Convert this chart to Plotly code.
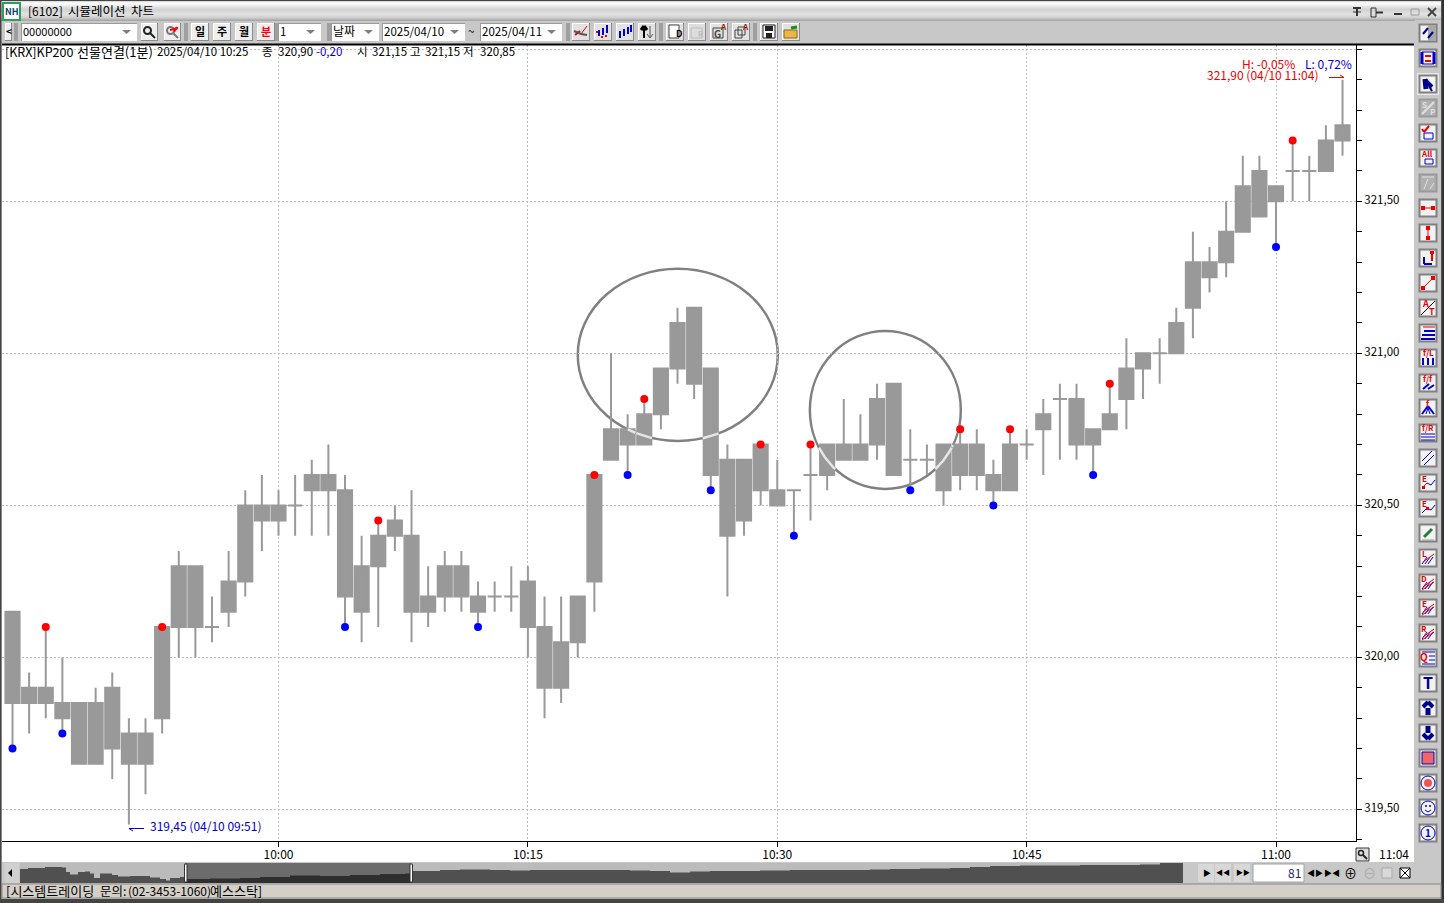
import math

import plotly.graph_objects as go

W = 1444
H = 903
FONT = "Noto Sans CJK KR"

# 1 minute bars, 09:44 -> 11:04
body_top = [
    320.15, 319.90, 319.90, 319.85, 319.85, 319.85, 319.90, 319.75, 319.75, 320.10,
    320.30, 320.30, 320.10, 320.25, 320.50, 320.50, 320.50, 320.50, 320.60, 320.60,
    320.55, 320.30, 320.40, 320.45, 320.40, 320.20, 320.30, 320.30, 320.20, 320.20,
    320.20, 320.25, 320.10, 320.05, 320.20, 320.60, 320.75, 320.75, 320.80, 320.95,
    321.10, 321.15, 320.95, 320.65, 320.65, 320.70, 320.55, 320.55, 320.60, 320.70,
    320.70, 320.70, 320.85, 320.90, 320.65, 320.65, 320.70, 320.70, 320.70, 320.60,
    320.70, 320.70, 320.80, 320.85, 320.85, 320.75, 320.80, 320.95, 321.00, 321.00,
    321.10, 321.30, 321.30, 321.40, 321.55, 321.60, 321.55, 321.60, 321.60, 321.70, 321.75,
]
body_bot = [
    319.85, 319.85, 319.85, 319.80, 319.65, 319.65, 319.70, 319.65, 319.65, 319.80,
    320.10, 320.10, 320.10, 320.15, 320.25, 320.45, 320.45, 320.50, 320.55, 320.55,
    320.20, 320.15, 320.30, 320.40, 320.15, 320.15, 320.20, 320.20, 320.15, 320.20,
    320.20, 320.10, 319.90, 319.90, 320.05, 320.25, 320.65, 320.70, 320.70, 320.80,
    320.95, 320.90, 320.60, 320.40, 320.45, 320.55, 320.50, 320.55, 320.60, 320.60,
    320.65, 320.65, 320.70, 320.60, 320.65, 320.65, 320.55, 320.60, 320.60, 320.55,
    320.55, 320.70, 320.75, 320.85, 320.70, 320.70, 320.75, 320.85, 320.95, 321.00,
    321.00, 321.15, 321.25, 321.30, 321.40, 321.45, 321.50, 321.60, 321.60, 321.60, 321.70,
]
high = [
    320.15, 319.95, 320.10, 320.00, 319.85, 319.90, 319.95, 319.80, 319.80, 320.10,
    320.35, 320.30, 320.20, 320.35, 320.55, 320.60, 320.55, 320.60, 320.65, 320.70,
    320.60, 320.40, 320.45, 320.50, 320.55, 320.30, 320.35, 320.35, 320.25, 320.25,
    320.30, 320.30, 320.20, 320.20, 320.20, 320.60, 321.00, 320.80, 320.85, 320.95,
    321.15, 321.15, 320.95, 320.70, 320.65, 320.70, 320.65, 320.55, 320.70, 320.70,
    320.85, 320.80, 320.90, 320.90, 320.75, 320.70, 320.70, 320.75, 320.75, 320.65,
    320.75, 320.75, 320.85, 320.90, 320.90, 320.75, 320.90, 321.05, 321.00, 321.05,
    321.15, 321.40, 321.35, 321.50, 321.65, 321.65, 321.55, 321.70, 321.65, 321.75, 321.90,
]
low = [
    319.70, 319.75, 319.80, 319.75, 319.65, 319.65, 319.60, 319.45, 319.55, 319.75,
    320.00, 320.00, 320.05, 320.10, 320.20, 320.35, 320.40, 320.40, 320.40, 320.40,
    320.10, 320.05, 320.10, 320.35, 320.05, 320.10, 320.15, 320.15, 320.10, 320.15,
    320.15, 320.00, 319.80, 319.85, 320.00, 320.15, 320.65, 320.60, 320.70, 320.75,
    320.90, 320.85, 320.55, 320.20, 320.40, 320.50, 320.50, 320.40, 320.45, 320.55,
    320.65, 320.65, 320.65, 320.60, 320.55, 320.60, 320.50, 320.55, 320.55, 320.50,
    320.55, 320.65, 320.60, 320.65, 320.65, 320.60, 320.75, 320.75, 320.85, 320.90,
    321.00, 321.05, 321.20, 321.25, 321.40, 321.45, 321.35, 321.50, 321.50, 321.60, 321.65,
]
red_bars = [2, 9, 22, 35, 38, 45, 48, 57, 60, 66, 77]
blue_bars = [0, 3, 20, 28, 37, 42, 47, 54, 59, 65, 76]

time_ticks = [16, 31, 46, 61, 76]
time_labels = ["10:00", "10:15", "10:30", "10:45", "11:00"]
price_ticks = [319.5, 320.0, 320.5, 321.0, 321.5, 322.0]
price_labels = ["319,50", "320,00", "320,50", "321,00", "321,50", ""]
minor_ticks = [319.4, 319.6, 319.7, 319.8, 319.9, 320.1, 320.2, 320.3, 320.4, 320.6, 320.7,
               320.8, 320.9, 321.1, 321.2, 321.3, 321.4, 321.6, 321.7, 321.8, 321.9]

# the two hand drawn circles: first/last bar, lower/upper price
circles = [(34.0, 46.03, 320.712, 321.278), (47.96, 57.04, 320.554, 321.074)]

# overview strip under the chart
nav_pos = [0, 8, 25, 42, 46, 50, 58, 65, 70, 74, 80, 92, 98, 110, 130, 140, 146, 150, 160, 166,
           190, 220, 240, 270, 300, 330, 360, 385, 391, 400, 420, 440, 470, 490, 510, 540, 570,
           590, 610, 630, 650, 670, 690, 710, 740, 770, 800, 830, 850, 870, 900, 930, 950, 970,
           1000, 1030, 1060, 1090, 1120, 1140, 1163]
nav_level = [14, 15, 16, 15.5, 11, 8.5, 11, 11.5, 9.5, 5, 9.5, 8, 6.5, 7, 5.5, 4, 2.5, 5, 6, 4,
             4.5, 5, 6, 7.5, 7, 8, 9, 9.5, 12, 12, 13, 13.5, 13, 12.5, 13, 13, 13,
             13, 12.5, 12, 10.5, 11.5, 12, 12, 12.5, 13, 13, 13, 13.5, 14, 14.5, 15, 16, 17,
             17.5, 17.5, 18, 18, 18.5, 20, 20]

shapes = []
notes = []


def px(x):
    return x / W


def py(y):
    return 1 - y / H


def rect(x0, y0, x1, y1, fill, line=None, width=1, layer="above", kind="rect"):
    shapes.append(dict(type=kind, xref="paper", yref="paper", layer=layer,
                       x0=px(x0), x1=px(x1), y0=py(y0), y1=py(y1), fillcolor=fill,
                       line=dict(color=line or "rgba(0,0,0,0)", width=width if line else 0)))


def seg(x0, y0, x1, y1, color="#000000", width=1, layer="above"):
    shapes.append(dict(type="line", xref="paper", yref="paper", layer=layer,
                       x0=px(x0), x1=px(x1), y0=py(y0), y1=py(y1),
                       line=dict(color=color, width=width)))


def text(x, y, s, color="#000000", size=11.5, anchor="left", bold=False):
    if bold:
        s = "<b>" + s + "</b>"
    notes.append(dict(xref="paper", yref="paper", x=px(x), y=py(y - 1), text=s, showarrow=False,
                      xanchor=anchor, yanchor="middle", align=anchor, borderpad=0, borderwidth=0,
                      font=dict(family=FONT, size=size, color=color)))


def button(x0, y0, x1, y1, fill="#eeeeee", edge="#8a8a8a"):
    rect(x0, y0, x1, y1, fill)
    seg(x0, y0 + .5, x1, y0 + .5, "#ffffff")
    seg(x0 + .5, y0, x0 + .5, y1, "#ffffff")
    seg(x0, y1 - .5, x1, y1 - .5, edge)
    seg(x1 - .5, y0, x1 - .5, y1, edge)


def combo(x0, x1, s, size=11.5):
    rect(x0, 23, x1, 41, "#ffffff")
    seg(x0, 23.5, x1, 23.5, "#9a9a9a")
    seg(x0 + .5, 23, x0 + .5, 41, "#9a9a9a")
    text(x0 + 2, 32, s, size=size)
    shapes.append(dict(type="path", xref="paper", yref="paper", fillcolor="#808080", line=dict(width=0),
                       path="M%f %f L%f %f L%f %f Z" % (px(x1 - 15), py(30), px(x1 - 6), py(30), px(x1 - 10.5), py(34))))


def glyph(x, y, prims):
    for p in prims:
        if p[0] == "l":
            seg(x + p[3], y + p[4], x + p[5], y + p[6], p[1], p[2])
        elif p[0] == "r":
            rect(x + p[3], y + p[4], x + p[5], y + p[6], p[1], p[2], 1)
        elif p[0] == "c":
            rect(x + p[3], y + p[4], x + p[5], y + p[6], p[1], p[2], 1, kind="circle")
        elif p[0] == "t":
            text(x + p[3], y + p[4], p[2], p[1], p[5], "center", True)


RED = "#ee0000"
BLU = "#0000cc"
NAVY = "#00008b"
NONE = "rgba(0,0,0,0)"
stripes = [("l", BLU, 1, 3, 15, 8, 8), ("l", BLU, 1, 6, 15, 11, 8), ("l", BLU, 1, 9, 15, 14, 8),
           ("l", RED, 1, 4, 13, 15, 5), ("l", RED, 1, 3, 16, 15, 8)]
side_icons = [
    (33, 0, [("r", "#a8a8a8", None, 9, 1, 17, 17), ("l", NAVY, 2, 4, 10, 9, 4), ("l", NAVY, 2, 9, 14, 14, 8)]),
    (58, 0, [("r", NONE, BLU, 3, 3, 15, 15), ("l", RED, 2, 6, 7, 12, 7), ("l", RED, 2, 6, 12, 12, 12), ("l", BLU, 3, 3, 3, 3, 15), ("l", BLU, 3, 15, 3, 15, 15)]),
    (84, 3, [("l", NAVY, 5, 6, 4, 7, 14), ("l", NAVY, 4, 6, 5, 13, 12), ("l", NAVY, 2, 10, 11, 13, 16)]),
    (108, 1, [("l", "#e0e0e0", 2, 3, 15, 15, 3), ("t", "#e0e0e0", "S", 5, 6, 8), ("t", "#e0e0e0", "P", 13, 13, 8)]),
    (133, 0, [("l", RED, 2, 3, 5, 5, 8), ("l", RED, 2, 5, 8, 10, 2), ("r", NONE, BLU, 5, 9, 14, 15)]),
    (158, 0, [("t", RED, "All", 8, 5, 8), ("r", NONE, BLU, 6, 10, 14, 15)]),
    (183, 1, [("l", "#e0e0e0", 1, 3, 3, 15, 3), ("l", "#e0e0e0", 1, 5, 15, 9, 5), ("l", "#e0e0e0", 1, 11, 15, 15, 9)]),
    (208, 0, [("l", RED, 1, 3, 9, 15, 9), ("r", RED, None, 2, 7, 6, 11), ("r", RED, None, 12, 7, 16, 11)]),
    (233, 0, [("l", RED, 1, 9, 3, 9, 15), ("r", RED, None, 7, 2, 11, 6), ("r", RED, None, 7, 12, 11, 16)]),
    (258, 0, [("l", BLU, 2, 5, 15, 13, 15), ("l", BLU, 2, 5, 8, 5, 15), ("l", RED, 2, 13, 3, 13, 12), ("r", RED, None, 11, 2, 15, 5)]),
    (283, 0, [("l", RED, 1, 4, 14, 14, 4), ("r", RED, None, 2, 12, 6, 16), ("r", RED, None, 12, 2, 16, 6)]),
    (308, 0, [("l", "#000000", 1, 2, 16, 16, 2), ("t", RED, "A", 6, 5, 9), ("t", RED, "T", 13, 13, 9)]),
    (333, 0, [("l", RED, 1, 4, 3, 16, 3), ("l", BLU, 2, 5, 7, 16, 7), ("l", BLU, 2, 3, 11, 16, 11), ("l", BLU, 2, 2, 15, 16, 15)]),
    (358, 0, [("t", RED, "f/L", 9, 5, 8), ("l", BLU, 2, 4, 9, 4, 16), ("l", BLU, 2, 9, 9, 9, 16), ("l", BLU, 2, 14, 9, 14, 16)]),
    (383, 0, [("t", RED, "f/f", 9, 5, 8), ("l", BLU, 2, 4, 15, 10, 10), ("l", BLU, 2, 9, 15, 15, 11)]),
    (408, 0, [("t", RED, "f", 9, 5, 8), ("l", BLU, 2, 3, 15, 9, 7), ("l", BLU, 2, 15, 15, 9, 7), ("l", BLU, 1, 7, 15, 9, 9), ("l", BLU, 1, 11, 15, 9, 9)]),
    (433, 0, [("t", RED, "f/R", 9, 5, 8), ("l", BLU, 1, 2, 10, 16, 10), ("l", BLU, 1, 2, 13, 16, 13), ("l", BLU, 1, 2, 16, 16, 16)]),
    (458, 0, [("l", BLU, 1, 3, 12, 13, 2), ("l", BLU, 1, 5, 16, 15, 6)]),
    (483, 0, [("t", RED, "E", 5, 5, 8), ("l", RED, 1, 3, 14, 8, 9), ("l", BLU, 1, 8, 9, 12, 11), ("l", BLU, 1, 12, 11, 16, 6), ("r", RED, None, 3, 12, 6, 15)]),
    (508, 0, [("t", RED, "E", 5, 5, 8), ("l", BLU, 1, 3, 14, 8, 9), ("l", BLU, 1, 8, 9, 12, 11), ("l", BLU, 1, 12, 11, 16, 6), ("r", RED, None, 7, 8, 10, 11)]),
    (533, 0, [("l", "#2e7d32", 3, 5, 13, 13, 5), ("l", "#9a9a9a", 1, 3, 16, 15, 16)]),
    (558, 0, [("t", RED, "L", 5, 5, 8)] + stripes[:3] + [("l", RED, 1, 4, 13, 15, 5)]),
    (583, 0, [("t", RED, "D", 5, 5, 8)] + stripes),
    (608, 0, [("t", RED, "E", 5, 5, 8)] + stripes),
    (633, 0, [("t", RED, "R", 5, 5, 8)] + stripes),
    (658, 0, [("t", RED, "Q", 5, 8, 10), ("l", BLU, 1, 3, 3, 16, 3), ("l", BLU, 1, 10, 7, 16, 7), ("l", BLU, 1, 10, 11, 16, 11), ("l", BLU, 1, 3, 15, 16, 15)]),
    (683, 0, [("t", NAVY, "T", 9, 9, 16)]),
    (708, 0, [("l", NAVY, 5, 9, 9, 9, 16), ("l", NAVY, 4, 4, 8, 9, 3), ("l", NAVY, 4, 14, 8, 9, 3)]),
    (733, 0, [("l", NAVY, 5, 9, 2, 9, 9), ("l", NAVY, 4, 4, 10, 9, 15), ("l", NAVY, 4, 14, 10, 9, 15)]),
    (758, 0, [("r", "#ee6666", BLU, 3, 3, 15, 15)]),
    (783, 0, [("c", NONE, BLU, 2, 2, 16, 16), ("c", "#ee5555", None, 5, 5, 13, 13)]),
    (808, 0, [("c", NONE, BLU, 2, 2, 16, 16), ("c", BLU, None, 6, 6, 8, 8), ("c", BLU, None, 10, 6, 12, 8), ("l", BLU, 1, 6, 11, 9, 13), ("l", BLU, 1, 9, 13, 12, 11)]),
    (833, 0, [("c", NONE, BLU, 2, 2, 16, 16), ("t", BLU, "1", 9, 9, 10)]),
]
top_icons = [
    (572, [("l", RED, 2, 3, 12, 8, 8), ("l", "#555555", 2, 2, 8, 9, 11), ("l", RED, 1, 9, 11, 15, 3), ("l", "#555555", 2, 9, 11, 15, 12)]),
    (594, [("l", BLU, 2, 5, 7, 5, 13), ("l", BLU, 2, 9, 5, 9, 12), ("l", BLU, 2, 13, 2, 13, 10), ("r", RED, None, 2, 8, 4, 10), ("r", RED, None, 7, 13, 9, 15), ("r", RED, None, 11, 12, 13, 14)]),
    (616, [("l", BLU, 2, 4, 8, 4, 15), ("l", BLU, 2, 8, 6, 8, 13), ("l", BLU, 2, 12, 4, 12, 11), ("l", BLU, 2, 15, 2, 15, 9)]),
    (638, [("l", "#000000", 2, 6, 6, 6, 15), ("l", "#000000", 3, 3, 7, 6, 3), ("l", "#000000", 3, 9, 7, 6, 3), ("l", "#555555", 1, 12, 3, 12, 14), ("l", "#555555", 1, 9, 11, 12, 15), ("l", "#555555", 1, 15, 11, 12, 15)]),
    (666, [("r", "#ffffff", "#444444", 3, 2, 13, 15), ("t", "#000000", "D", 13, 12, 9)]),
    (688, [("r", NONE, "#bcbcbc", 3, 5, 14, 15), ("t", "#bcbcbc", "R", 13, 12, 8)]),
    (710, [("r", NONE, "#444444", 3, 5, 13, 15), ("t", "#444444", "G", 7, 11, 10), ("t", "#8b2500", "A", 13, 4, 8)]),
    (732, [("r", NONE, "#444444", 3, 7, 10, 15), ("r", NONE, "#444444", 6, 4, 13, 12), ("t", "#8b2500", "A", 14, 4, 8)]),
    (760, [("r", "#ffffff", "#222222", 3, 2, 15, 15), ("r", "#222222", None, 5, 3, 13, 8), ("r", "#222222", None, 6, 10, 12, 15)]),
    (782, [("r", "#e8b64a", "#8b6914", 2, 7, 15, 15), ("l", "#1a8f1a", 3, 9, 5, 15, 4)]),
]
day_buttons = [(191, "일", "#000000"), (213, "주", "#000000"), (235, "월", "#000000"), (257, "분", "#ff0000")]

# window frame and title bar
rect(0, 0, W, H, "#c8c8c8", layer="below")
rect(2, 44, 1414, 862, "#ffffff", layer="below")
title_colors = ["#444444", "#dcdcdc", "#f4f4f4", "#fbfbfb", "#f6f6f6", "#eeeeee", "#e6e6e6", "#dedede", "#d8d8d8",
                "#d4d4d4", "#d4d4d4", "#d8d8d8", "#dcdcdc", "#e0e0e0", "#e0e0e0", "#dcdcdc", "#d6d6d6", "#cfcfcf",
                "#c4c4c4", "#b4b4b4", "#a8a8a8"]
for k, c in enumerate(title_colors):
    rect(0, k, W, k + 1, c)
rect(3, 3, 20, 20, "#ffffff", "#2e9e5b", 2)
text(11.5, 12, "NH", "#123f6d", 9, "center", True)
text(28, 11, "[6102]", size=12)
text(68, 11, "시뮬레이션", size=12.5)
text(131, 11, "차트", size=12.5)
seg(1357, 7, 1357, 16, "#333333", 2)
seg(1353, 8, 1361, 8, "#333333", 2)
seg(1353, 12, 1361, 12, "#333333", 1)
rect(1371, 8, 1376, 17, NONE, "#333333", 1)
seg(1376, 12.5, 1383, 12.5, "#333333", 2)
seg(1394, 14, 1402, 14, "#333333", 2)
rect(1411, 9, 1419, 15, NONE, "#9a9a9a", 1)
seg(1428, 8, 1436, 16, "#444444", 2)
seg(1436, 8, 1428, 16, "#444444", 2)

# top toolbar
button(5, 23, 12, 41)
text(8.5, 32, "<", size=10, anchor="center", bold=True)
for sx in (15, 185, 276, 328, 567, 660, 754):
    seg(sx, 23, sx, 41, "#777777", 1)
    seg(sx + 2, 23, sx + 2, 41, "#777777", 1)
combo(21, 137, "00000000", 11)
button(141, 23, 158, 41)
rect(144, 27, 151, 34, NONE, "#222222", 2, kind="circle")
seg(150, 33, 155, 38, "#222222", 2)
button(164, 23, 181, 41)
rect(167, 27, 174, 34, NONE, "#777777", 2, kind="circle")
seg(173, 33, 178, 38, "#777777", 2)
seg(170, 30, 178, 28, "#ff0000", 2)
seg(174, 32, 177, 27, "#ff0000", 2)
for bx, label, col in day_buttons:
    button(bx, 23, bx + 18, 41)
    text(bx + 9, 32, label, col, 11, "center", True)
combo(278, 321, "1")
combo(331, 379, "날짜", 12)
combo(382, 465, "2025/04/10")
text(471, 32, "~", anchor="center")
combo(480, 562, "2025/04/11")
for bx, prims in top_icons:
    button(bx, 23, bx + 18, 41, "#e2e2e2" if bx != 688 else "#dddddd")
    glyph(bx, 23, prims)

# right toolbar
rect(1415, 20, 1441, 862, "#c8c8c8")
seg(1441.5, 0, 1441.5, H, "#555555", 1)
rect(1442, 0, W, H, "#333333")
for cy, state, prims in side_icons:
    if state == 3:
        rect(1417, cy - 11, 1439, cy + 11, "#e8e8e8")
        rect(1419.5, cy - 8.5, 1436.5, cy + 8.5, "#f4f4f4", "#808080", 2)
    elif state == 1:
        rect(1419.5, cy - 8.5, 1436.5, cy + 8.5, "#b0b0b0", "#9a9a9a", 2)
    else:
        rect(1419.5, cy - 8.5, 1436.5, cy + 8.5, "#f2f2f2", "#808080", 2)
    glyph(1419, cy - 9, prims)

# chart header and high/low notes
seg(2, 44.5, 1414, 44.5, "#000000", 2)
rect(0, 0, 1.5, H, "#444444")
text(5, 52, "[KRX]KP200", size=12.5)
text(77, 52, "선물연결(1분)", size=13)
text(157, 52, "2025/04/10 10:25")
text(262, 52, "종")
text(278, 52, "320,90")
text(316, 52, "-0,20", "#0000cc")
text(357, 52, "시")
text(372, 52, "321,15")
text(410, 52, "고")
text(425, 52, "321,15")
text(463, 52, "저")
text(480, 52, "320,85")
text(1242, 64, "H: -0,05%", "#ee0000", 12)
text(1305, 64, "L: 0,72%", "#0000cc", 12)
text(1207, 75, "321,90 (04/10 11:04)", "#ee0000", 12)
seg(1329, 77.5, 1344, 77.5, "#ee0000")
seg(1340, 75, 1344, 77.5, "#ee0000")
text(150, 826, "319,45 (04/10 09:51)", "#0000cc", 12)
seg(129, 828.5, 144, 828.5, "#0000cc")
seg(129, 828.5, 133, 831, "#0000cc")

# bottom right of the chart
rect(1356, 848, 1369, 861, "#dddddd", "#333333", 1)
rect(1358.5, 850.5, 1363.5, 855.5, NONE, "#222222", 1.5, kind="circle")
seg(1363, 855, 1367, 859, "#222222", 2)
text(1379, 854, "11:04", size=12)

# overview strip and its buttons
rect(5, 863, 19, 883, "#d0d0d0")
shapes.append(dict(type="path", xref="paper", yref="paper", fillcolor="#000000", line=dict(width=0),
                   path="M%f %f L%f %f L%f %f Z" % (px(8), py(873), px(12), py(869), px(12), py(877))))
rect(20, 863, 1183, 883, "#bbbbbb", layer="below")
rect(185, 863, 411, 883, "rgba(0,0,0,0.42)")
rect(184.5, 864, 187, 882, "#ffffff", "#333333", 1)
rect(410, 864, 412.5, 882, "#ffffff", "#333333", 1)
for bx in (1198, 1215, 1234):
    rect(bx, 864, bx + 16, 882, "#d8d8d8")
text(1207, 873, "▶", size=8, anchor="center")
text(1223, 873, "◀◀", size=7, anchor="center")
text(1243, 873, "▶▶", size=7, anchor="center")
rect(1253, 864, 1304, 882, "#ffffff", "#a0a0a0", 1)
text(1301, 873, "81", "#222266", 12, "right")
text(1315, 873, "◀▶", size=8, anchor="center")
text(1332, 873, "▶◀", size=8, anchor="center")
text(1350, 873, "⊕", size=13, anchor="center")
text(1369, 873, "⊖", "#aaaaaa", 13, "center")
rect(1382, 868, 1392, 878, "#d8d8d8", "#aaaaaa", 1)
rect(1400, 868, 1410, 878, "#ffffff", "#000000", 1)
seg(1400, 868, 1410, 878)
seg(1410, 868, 1400, 878)

# status bar
rect(2, 884, 1441, 898, "#d4d0c8", "#888888", 1)
rect(0, 899, W, H, "#444444")
text(6, 891.5, "[시스템트레이딩", size=13)
text(100, 891.5, "문의:", size=12.5)
text(128, 891.5, "(02-3453-1060)", size=12)
text(210, 891.5, "예스스탁]", size=13)

# hand drawn circles sit behind the bars, the pen shows light where it crosses a body
arc_x = []
arc_y = []
for x0, x1, y0, y1 in circles:
    shapes.append(dict(type="circle", xref="x", yref="y", x0=x0, x1=x1, y0=y0, y1=y1, layer="below",
                       line=dict(color="#808080", width=2.5)))
    cx, cy = (x0 + x1) / 2, (y0 + y1) / 2
    rx, ry = (x1 - x0) / 2, (y1 - y0) / 2
    for bar in range(len(body_top)):
        pts = []
        for k in range(360, 720):
            ang = k * math.pi / 360
            ex, ey = cx + rx * math.cos(ang), cy + ry * math.sin(ang)
            if abs(ex - bar) < 0.5 and body_bot[bar] <= ey <= body_top[bar]:
                pts.append((ex, ey))
        for ex, ey in pts:
            arc_x.append(ex)
            arc_y.append(ey)
        arc_x.append(None)
        arc_y.append(None)

fig = go.Figure()
bars = list(range(len(body_top)))
fig.add_trace(go.Candlestick(
    x=bars, open=body_bot, close=body_top, high=high, low=low,
    increasing=dict(line=dict(color="#999999", width=2), fillcolor="#999999"),
    decreasing=dict(line=dict(color="#999999", width=2), fillcolor="#999999"),
    showlegend=False,
))
fig.add_trace(go.Scatter(
    x=arc_x, y=arc_y, mode="lines", line=dict(color="#e6e6e6", width=2.5),
    hoverinfo="skip", showlegend=False,
))
fig.add_trace(go.Scatter(
    x=red_bars, y=[high[b] for b in red_bars], mode="markers",
    marker=dict(color="#ff0000", size=8), showlegend=False,
))
fig.add_trace(go.Scatter(
    x=blue_bars, y=[low[b] for b in blue_bars], mode="markers",
    marker=dict(color="#0000ff", size=8), showlegend=False,
))
fig.add_trace(go.Scatter(
    x=nav_pos, y=nav_level, mode="lines", line=dict(color="#505050", width=0, shape="hv"),
    fill="tozeroy", fillcolor="#505050", xaxis="x2", yaxis="y2", showlegend=False,
))

fig.update_layout(
    width=W,
    height=H,
    autosize=False,
    margin=dict(l=0, r=0, t=0, b=0),
    paper_bgcolor="#ffffff",
    plot_bgcolor="rgba(0,0,0,0)",
    boxgap=0.15,
    boxgroupgap=0,
    font=dict(family=FONT, size=12, color="#000000"),
    xaxis=dict(
        domain=[2 / W, 1356 / W],
        range=[-0.632, 80.81],
        anchor="y",
        rangeslider=dict(visible=False),
        tickmode="array",
        tickvals=time_ticks,
        ticktext=time_labels,
        ticks="outside",
        ticklen=5,
        ticklabelstandoff=-2,
        tickcolor="#000000",
        showline=True,
        linecolor="#000000",
        showgrid=True,
        gridcolor="#bdbdbd",
        griddash="2px,2px",
        zeroline=False,
    ),
    yaxis=dict(
        domain=[1 - 841 / H, 1 - 44.5 / H],
        range=[319.396, 322.016],
        anchor="x",
        side="right",
        tickmode="array",
        tickvals=price_ticks,
        ticktext=price_labels,
        tickfont=dict(size=11.5),
        ticklabelshift=-1,
        ticks="outside",
        ticklen=5,
        tickcolor="#000000",
        showline=True,
        linecolor="#000000",
        showgrid=True,
        gridcolor="#bdbdbd",
        griddash="2px,2px",
        zeroline=False,
        minor=dict(tickmode="array", tickvals=minor_ticks, ticks="outside", ticklen=5,
                   tickcolor="#000000", showgrid=False),
    ),
    xaxis2=dict(domain=[20 / W, 1183 / W], range=[0, 1163], anchor="y2", visible=False),
    yaxis2=dict(domain=[1 - 883 / H, 1 - 863 / H], range=[0, 20], anchor="x2", visible=False),
    shapes=shapes,
    annotations=notes,
)

fig.write_html(
    "out.html",
    config=dict(displayModeBar=False),
    post_script="document.body.style.margin='0';document.body.style.overflow='hidden';",
)
